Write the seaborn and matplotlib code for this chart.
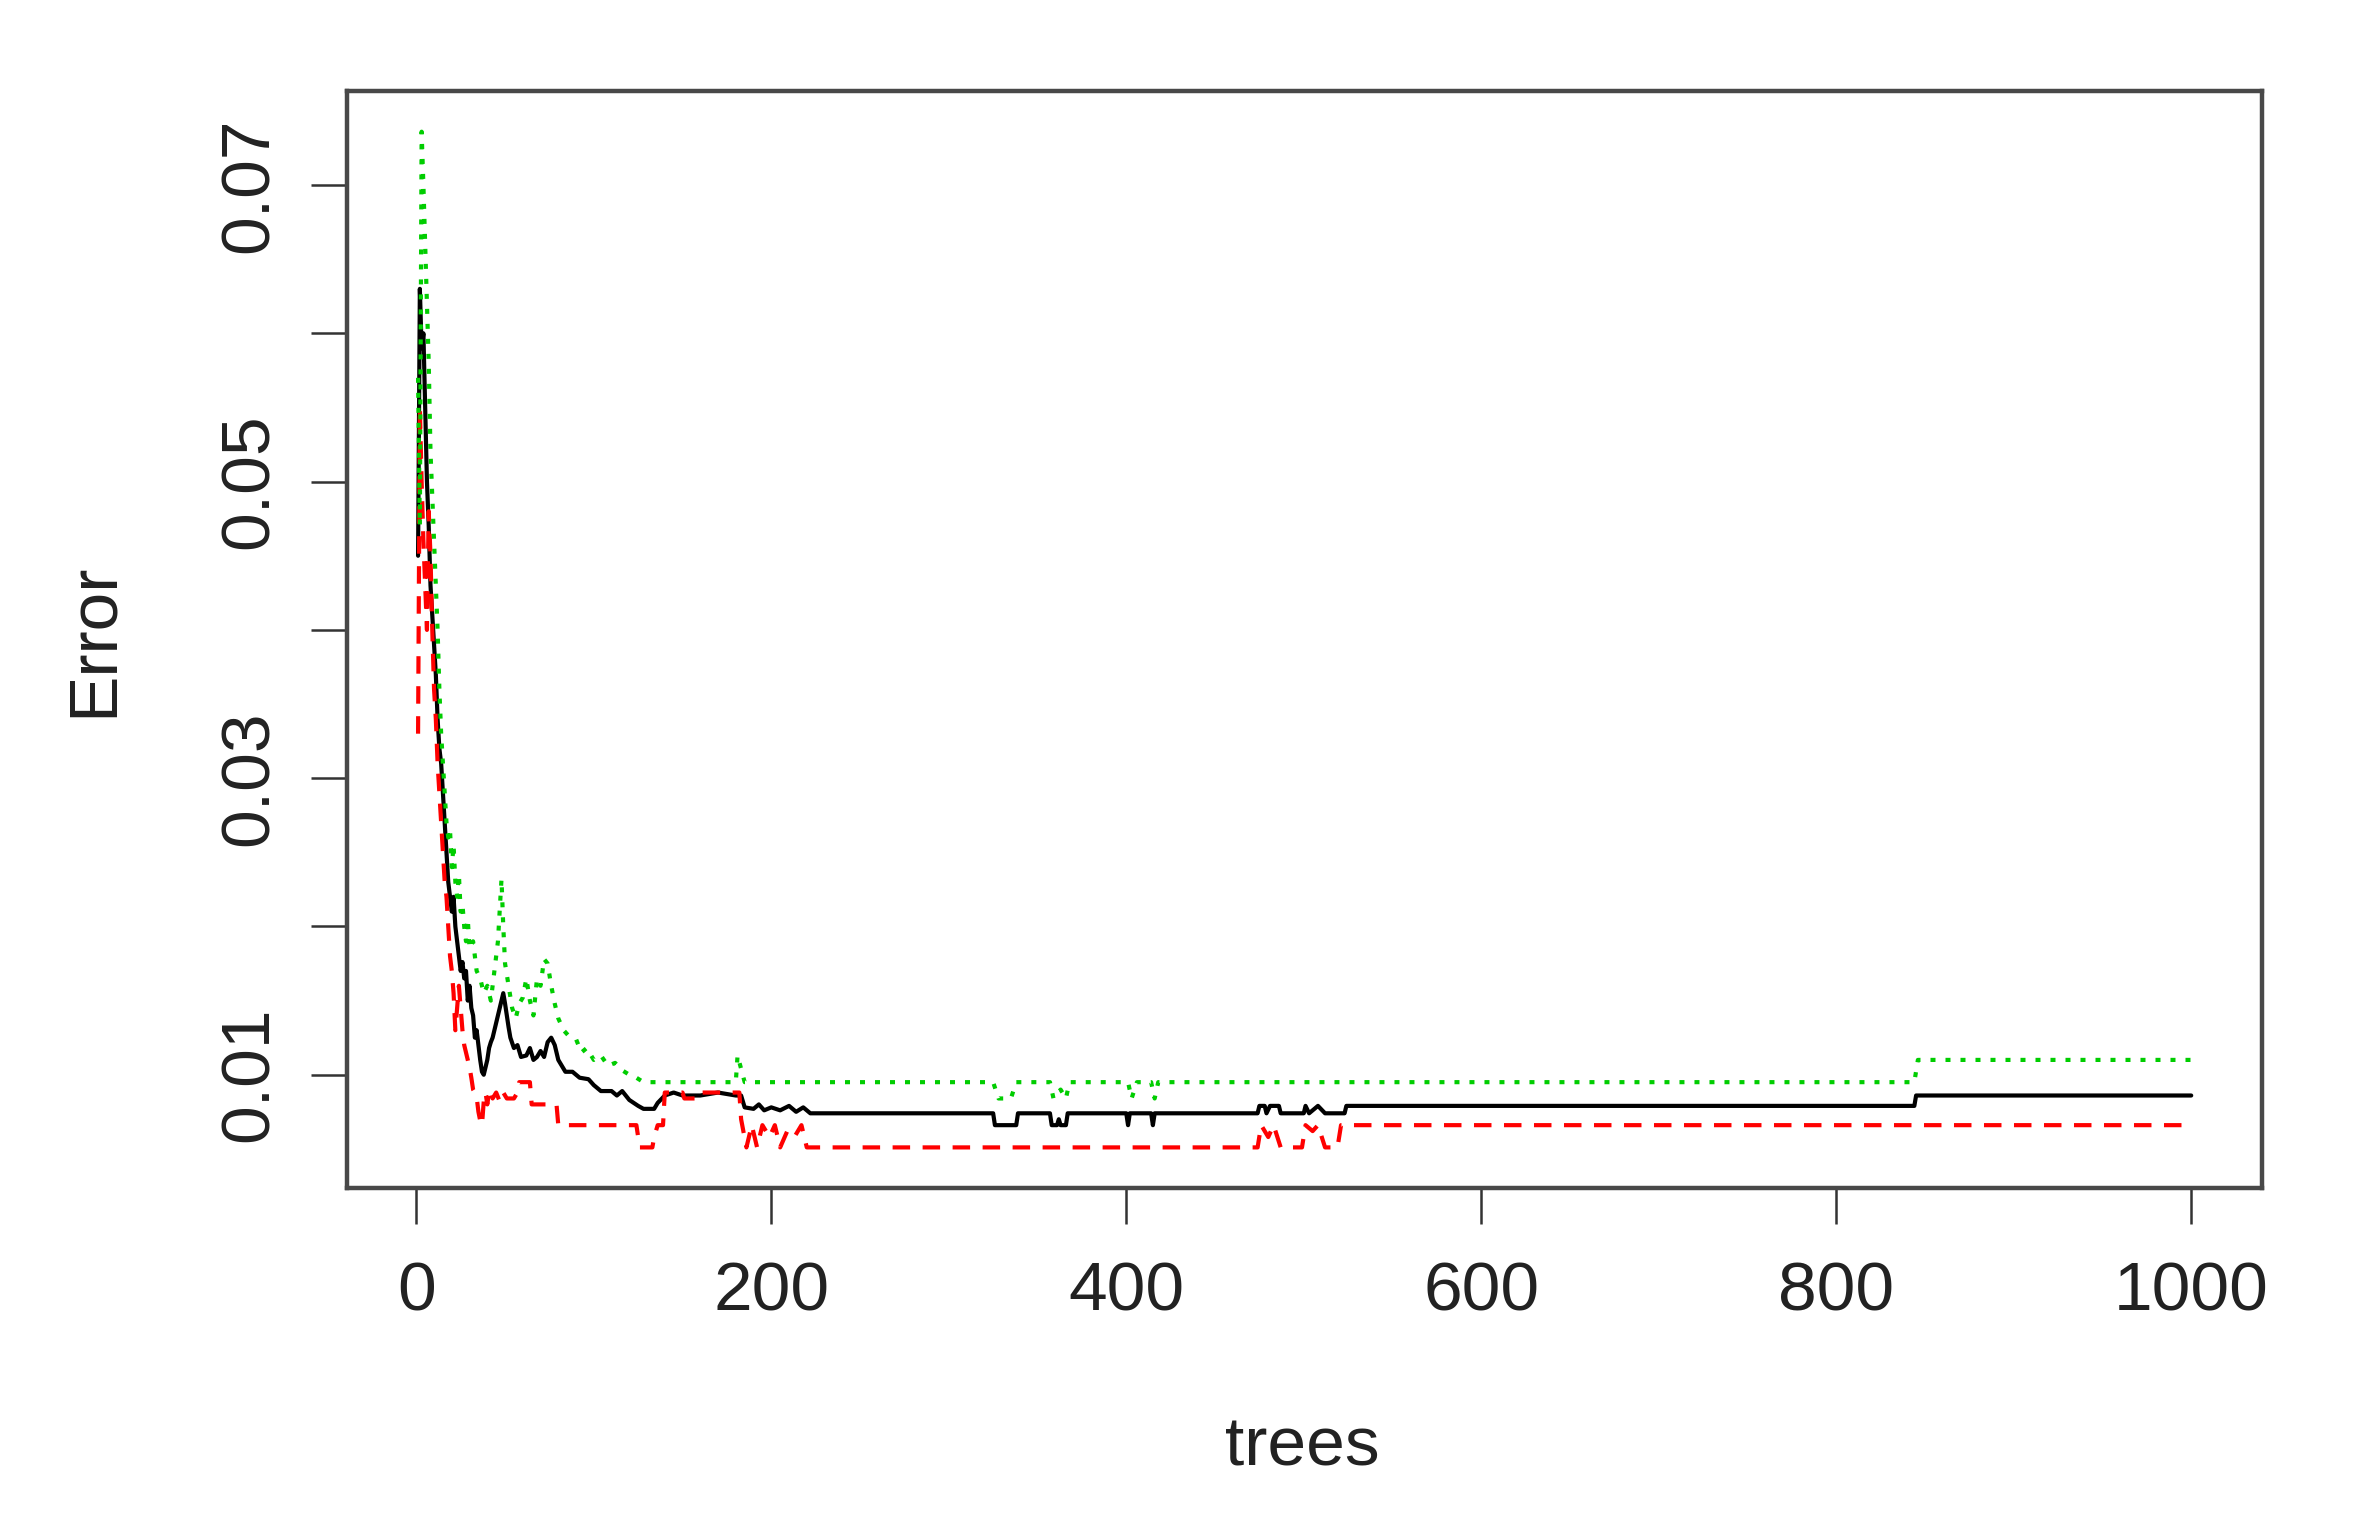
import matplotlib
matplotlib.use("Agg")
import pandas as pd
import seaborn as sns
import matplotlib.pyplot as plt
from matplotlib import font_manager

# OOB error (black), class 1 error (red), class 2 error (green) per number of trees
black_trees = [1, 2, 3, 4, 5, 6, 7, 8, 9, 10, 11, 12, 13, 14, 15, 16, 17, 18, 19, 20,
               21, 22, 23, 24, 25, 26, 27, 28, 29, 30, 31, 32, 33, 34, 35, 36, 37, 38, 39, 40,
               41, 42, 43, 44, 45, 46, 47, 48, 49, 50, 51, 52, 53, 55, 57, 59, 62, 64, 66, 68,
               70, 72, 74, 76, 78, 80, 84, 88, 92, 97, 100, 104, 110, 113, 116, 120, 125, 128, 134, 136,
               140, 145, 150, 160, 170, 180, 183, 185, 190, 193, 196, 200, 205, 210, 214, 218, 222, 325, 326, 338,
               339, 357, 358, 361, 362, 363, 366, 367, 400, 401, 402, 414, 415, 416, 474, 475, 478, 479, 481, 486,
               487, 500, 501, 503, 508, 512, 523, 524, 844, 845, 1000]
black_err = [0.045, 0.063, 0.059, 0.060, 0.055, 0.050, 0.047, 0.043, 0.041, 0.039, 0.037, 0.034, 0.032, 0.031, 0.029, 0.027, 0.025, 0.023, 0.022, 0.021,
             0.022, 0.020, 0.019, 0.018, 0.017, 0.0176, 0.0165, 0.017, 0.015, 0.016, 0.0145, 0.014, 0.0125, 0.013, 0.012, 0.011, 0.0102, 0.0100, 0.0105, 0.011,
             0.0118, 0.0122, 0.0125, 0.013, 0.0135, 0.014, 0.0145, 0.015, 0.0155, 0.0148, 0.014, 0.0132, 0.0125, 0.0118, 0.012, 0.0112, 0.0113, 0.0118, 0.011, 0.0112,
             0.0116, 0.0112, 0.0122, 0.0125, 0.012, 0.011, 0.0102, 0.0102, 0.0098, 0.0097, 0.0093, 0.0089, 0.0089, 0.0086, 0.0089, 0.0083, 0.0079, 0.0077, 0.0077, 0.0081,
             0.0086, 0.0088, 0.0086, 0.0086, 0.0088, 0.0086, 0.0086, 0.0078, 0.0077, 0.0080, 0.0076, 0.0078, 0.0076, 0.0079, 0.0075, 0.0078, 0.0074, 0.0074, 0.0066, 0.0066,
             0.0074, 0.0074, 0.0066, 0.0066, 0.0070, 0.0066, 0.0066, 0.0074, 0.0074, 0.0066, 0.0074, 0.0074, 0.0066, 0.0074, 0.0074, 0.0079, 0.0079, 0.0074, 0.0079, 0.0079,
             0.0074, 0.0074, 0.0079, 0.0074, 0.0079, 0.0074, 0.0074, 0.0079, 0.0079, 0.0086, 0.0086]

red_trees = [1, 2, 3, 4, 5, 6, 7, 8, 9, 10, 11, 12, 13, 14, 15, 16, 17, 18, 19, 20,
             21, 22, 23, 24, 25, 26, 27, 28, 29, 30, 31, 32, 33, 34, 35, 36, 37, 38, 39, 40,
             41, 42, 43, 45, 47, 49, 51, 55, 57, 58, 64, 65, 79, 80, 124, 125, 126, 133, 134, 136,
             139, 140, 150, 151, 160, 161, 182, 183, 186, 189, 192, 195, 199, 202, 205, 209, 213, 217, 220, 474,
             476, 480, 483, 487, 499, 501, 505, 508, 512, 519, 521, 1000]
red_err = [0.033, 0.055, 0.050, 0.046, 0.043, 0.040, 0.048, 0.045, 0.040, 0.036, 0.034, 0.031, 0.029, 0.027, 0.025, 0.023, 0.022, 0.020, 0.018, 0.017,
           0.0155, 0.013, 0.0145, 0.016, 0.0145, 0.013, 0.012, 0.0115, 0.011, 0.0105, 0.0098, 0.009, 0.0088, 0.0085, 0.0075, 0.0069, 0.0066, 0.0082, 0.0088, 0.0080,
           0.0088, 0.0090, 0.0084, 0.0088, 0.0082, 0.0088, 0.0084, 0.0084, 0.0088, 0.0095, 0.0095, 0.0080, 0.0080, 0.0066, 0.0066, 0.0058, 0.0051, 0.0051, 0.0058, 0.0066,
           0.0066, 0.0088, 0.0088, 0.0084, 0.0084, 0.0088, 0.0088, 0.0070, 0.0051, 0.0066, 0.0051, 0.0066, 0.0058, 0.0066, 0.0051, 0.0062, 0.0058, 0.0066, 0.0051, 0.0051,
           0.0066, 0.0058, 0.0066, 0.0051, 0.0051, 0.0066, 0.0062, 0.0066, 0.0051, 0.0051, 0.0066, 0.0066]

green_trees = [1, 2, 3, 4, 5, 6, 7, 8, 9, 10, 11, 12, 13, 14, 15, 16, 17, 18, 19, 20,
               21, 22, 23, 24, 25, 26, 27, 28, 29, 30, 32, 34, 36, 38, 40, 42, 44, 46, 48, 49,
               50, 52, 54, 56, 58, 60, 62, 64, 66, 68, 70, 72, 74, 76, 78, 80, 83, 86, 90, 93,
               96, 100, 104, 108, 112, 116, 120, 124, 128, 180, 181, 183, 185, 325, 328, 335, 338, 357, 359, 363,
               366, 368, 401, 403, 406, 414, 416, 418, 844, 846, 1000]
green_err = [0.057, 0.047, 0.0736, 0.070, 0.066, 0.062, 0.058, 0.052, 0.049, 0.046, 0.043, 0.040, 0.036, 0.033, 0.031, 0.029, 0.027, 0.026, 0.0265, 0.024,
             0.0255, 0.023, 0.022, 0.0235, 0.021, 0.0215, 0.020, 0.019, 0.0205, 0.0185, 0.019, 0.017, 0.0165, 0.0155, 0.016, 0.0150, 0.017, 0.019, 0.0232, 0.020,
             0.0175, 0.016, 0.0145, 0.0138, 0.0148, 0.0152, 0.0165, 0.0150, 0.0140, 0.0165, 0.016, 0.0178, 0.0175, 0.0160, 0.0148, 0.0138, 0.0130, 0.0126, 0.0124, 0.0115,
             0.0118, 0.0110, 0.0113, 0.0106, 0.0108, 0.0103, 0.0100, 0.0098, 0.0095, 0.0095, 0.0113, 0.0104, 0.0095, 0.0095, 0.0084, 0.0084, 0.0095, 0.0095, 0.0084, 0.0090,
             0.0084, 0.0095, 0.0095, 0.0084, 0.0095, 0.0095, 0.0084, 0.0095, 0.0095, 0.0110, 0.0110]

y_ticks = [0.01, 0.02, 0.03, 0.04, 0.05, 0.06, 0.07]
y_labels = ["0.01", "", "0.03", "", "0.05", "", "0.07"]
x_ticks = [0, 200, 400, 600, 800, 1000]

sns.set_style("white")
names = {f.name for f in font_manager.fontManager.ttflist}
family = "Liberation Sans Narrow" if "Liberation Sans Narrow" in names else "Liberation Sans"
plt.rcParams["font.family"] = [family, "DejaVu Sans"]

fig = plt.figure(figsize=(23.68, 15.2), dpi=100)
ax = fig.add_axes([0.1466, 0.2184, 0.8087, 0.7217])

lw = 3.0
sns.lineplot(x=black_trees, y=black_err, color="black", linewidth=lw,
             estimator=None, sort=False, ax=ax)
sns.lineplot(x=red_trees, y=red_err, color="#ff0000", linewidth=lw,
             linestyle=(0, (4.2, 3.0)), estimator=None, sort=False, ax=ax)
sns.lineplot(x=green_trees, y=green_err, color="#00cd00", linewidth=lw,
             linestyle=(0, (1.2, 2.4)), estimator=None, sort=False, ax=ax)

# R style axis limits: 4% padding around the data range
all_err = black_err + red_err + green_err
lo, hi = min(all_err), max(all_err)
pad = 0.04 * (hi - lo)
ax.set_ylim(lo - pad, hi + pad)
ax.set_xlim(1 - 0.04 * 999, 1000 + 0.04 * 999)

ax.set_xticks(x_ticks)
ax.set_xticklabels([str(t) for t in x_ticks])
ax.set_yticks(y_ticks)
ax.set_yticklabels(y_labels, rotation=90, va="center")

fs = 50
ax.tick_params(axis="both", which="both", bottom=True, left=True, direction="out",
               length=26, width=1.8, color="#333333", labelsize=fs, labelcolor="#222222")
ax.tick_params(axis="x", pad=26)
ax.tick_params(axis="y", pad=21)

for spine in ax.spines.values():
    spine.set_visible(True)
    spine.set_color("#484848")
    spine.set_linewidth(3.2)

ax.set_xlabel("trees", fontsize=fs, color="#222222", va="center")
ax.xaxis.set_label_coords(0.4987, -0.2361)
ax.set_ylabel("Error", fontsize=fs, color="#222222", va="center", ha="center")
ax.yaxis.set_label_coords(-0.1321, 0.5)

ax.grid(False)
fig.savefig("out.png", dpi=100, facecolor="white")
